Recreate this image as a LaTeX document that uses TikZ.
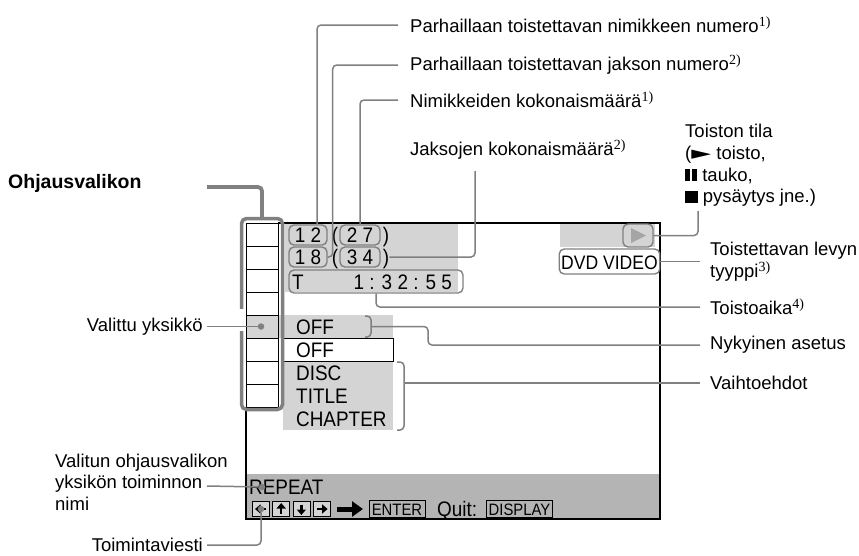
\documentclass[tikz,border=0pt]{standalone}
\usepackage{fontspec}
\setmainfont{Liberation Sans}
\newfontfamily\notefont{Liberation Serif}
\newfontfamily\symfont{DejaVu Sans}
\newfontfamily\screenfont[FakeStretch=0.9]{Liberation Sans}
\usepackage{xcolor}
\usepackage{tikz}
\usetikzlibrary{arrows.meta, positioning, calc}
\definecolor{LineGray}{RGB}{128,128,128}
\definecolor{ScreenBg}{RGB}{212,212,212}
\definecolor{BarBg}{RGB}{180,180,180}
\definecolor{IconGray}{RGB}{165,165,165}

\newcommand{\lblsize}{\fontsize{18.5}{21.6}\selectfont}
\newcommand{\scrsize}{\screenfont\fontsize{21}{23}\selectfont}
\newcommand{\keysize}{\screenfont\fontsize{16.5}{17}\selectfont}
\newcommand{\fnote}[1]{\raisebox{6pt}{\notefont\fontsize{14}{14}\selectfont #1}}

\tikzset{
  conn/.style={draw=LineGray, line width=1.5pt, rounded corners=4pt},
  lblL/.style={font=\lblsize, anchor=east, inner xsep=4pt, inner ysep=0pt},
  lblR/.style={font=\lblsize, anchor=west, align=left, inner xsep=10pt, inner ysep=0pt},
  lblT/.style={font=\lblsize, anchor=west, inner xsep=12pt, inner ysep=0pt},
  capsule/.style={draw=LineGray, line width=1.4pt, rounded corners=5pt, font=\scrsize,
    text height=15pt, text depth=0pt, inner xsep=3pt, inner ysep=0pt, minimum height=20pt},
  scrtext/.style={font=\scrsize, anchor=west, text height=15pt, text depth=0pt, inner sep=0pt},
  cell/.style={draw=black, line width=0.9pt, minimum width=32pt, minimum height=23pt, inner sep=0pt},
  keybox/.style={draw=black, fill=ScreenBg, line width=0.8pt, minimum width=17pt,
    minimum height=15pt, inner sep=0pt},
  tagbox/.style={draw=black, line width=0.8pt, font=\keysize, text height=12pt, text depth=0pt,
    inner xsep=2pt, inner ysep=2pt, minimum height=17pt},
  hotdot/.style={circle, fill=LineGray, inner sep=0pt, minimum size=6.5pt}
}

\begin{document}
\begin{tikzpicture}[x=1pt, y=-1pt]
  \useasboundingbox (0,0) rectangle (859,555);

  % screen
  \fill[ScreenBg] (285,224) rectangle (458,292);
  \fill[ScreenBg] (560,224) rectangle (655,247);
  \fill[ScreenBg] (246,315) rectangle (393,338);
  \fill[ScreenBg] (283,361) rectangle (393,430);
  \fill[BarBg] (246,474) rectangle (660,518);
  \draw[line width=1.8pt] (246,407) -- (246,519) -- (660,519) -- (660,223) -- (278,223);

  \foreach \i in {0,...,7}
    \node[cell] (cell\i) at (262,234.5+23*\i) {};

  \node[draw=black, line width=0.9pt, fill=white, minimum width=110pt, minimum height=23pt,
    inner sep=0pt, anchor=north west] (optbox) at (283,338) {};

  \node[draw=LineGray, line width=3.5pt, rounded corners=5pt,
    minimum width=41pt, minimum height=191pt, inner sep=0pt] (colframe) at (262,314) {};
  \fill[white] (238,309) rectangle (245.2,331);

  % top rows
  \node[capsule, minimum width=38pt] (c12) at (308,235) {1 2};
  \node[scrtext, anchor=center] (lp1) at (335,235) {(};
  \node[capsule, minimum width=40pt] (c27) at (360,235) {2 7};
  \node[scrtext, anchor=center] (rp1) at (386,235) {)};
  \node[capsule, minimum width=38pt] (c18) at (308,257) {1 8};
  \node[scrtext, anchor=center] (lp2) at (335,257) {(};
  \node[capsule, minimum width=40pt] (c34) at (360,257) {3 4};
  \node[scrtext, anchor=center] (rp2) at (386,257) {)};
  \node[capsule, minimum width=174pt, minimum height=23pt] (cT) at (376,281.5) {};
  \node[scrtext] (tmode) at (292,281.5) {T};
  \node[scrtext, anchor=east] (ttime) at (452,281.5) {1 : 3 2 : 5 5};

  \node[capsule, minimum width=30pt, minimum height=23pt] (playcap) at (638,235.5) {};
  \fill[IconGray] (631,228) -- (646,235.5) -- (631,243) -- cycle;
  \node[capsule, font=\screenfont\fontsize{19.5}{20}\selectfont, inner xsep=2pt,
    minimum height=25pt] (disctype) at (609.5,261.5) {DVD VIDEO};

  % menu
  \node[scrtext] (curset) at (296,326.5) {OFF};
  \node[scrtext] (opt1) at (296,349.5) {OFF};
  \node[scrtext] (opt2) at (296,373) {DISC};
  \node[scrtext] (opt3) at (296,396) {TITLE};
  \node[scrtext] (opt4) at (296,419) {CHAPTER};
  \draw[conn] (365,316) -- (371,316) -- (371,337) -- (365,337);
  \draw[conn] (397,362) -- (404,362) -- (404,430) -- (397,430);
  \coordinate (curbr) at (371,326.5);
  \coordinate (optbr) at (404,383);

  % bottom bar
  \node[scrtext] (fname) at (249,487) {REPEAT};
  \foreach \i/\dx/\dy in {0/-1/0, 1/0/-1, 2/0/1, 3/1/0} {
    \node[keybox] (key\i) at (261+20.2*\i,509) {};
    \draw[-{Triangle[length=5.5pt, width=9pt]}, line width=2.4pt]
      ($(key\i)-(4.5*\dx,4.5*\dy)$) -- ($(key\i)+(6*\dx,6*\dy)$);
  }
  \draw[-{Triangle[length=11pt, width=15pt]}, line width=5pt] (337,509) -- (363,509);
  \node[tagbox, minimum width=56pt] (enterkey) at (397,509) {ENTER};
  \node[scrtext] (quit) at (437,509) {Quit:};
  \node[tagbox, minimum width=65pt] (dispkey) at (519.5,509) {DISPLAY};

  % labels
  \node[font=\bfseries\fontsize{19.5}{22}\selectfont, anchor=west, inner sep=0pt]
    (ohjlab) at (8,183) {Ohjausvalikon};
  \node[lblL] (selunit) at (207,326.5) {Valittu yksikkö};
  \node[lblR, anchor=west, inner xsep=0pt] (fnlab) at (55,482)
    {Valitun ohjausvalikon\\yksikön toiminnon\\nimi};
  \node[lblL] (msglab) at (207,545) {Toimintaviesti};

  \node[lblT] (lTitleNo) at (398,25) {Parhaillaan toistettavan nimikkeen numero\fnote{1)}};
  \node[lblT] (lChapNo) at (398,65) {Parhaillaan toistettavan jakson numero\fnote{2)}};
  \node[lblT] (lTitleTot) at (398,100) {Nimikkeiden kokonaismäärä\fnote{1)}};
  \node[lblT] (lChapTot) at (398,150) {Jaksojen kokonaismäärä\fnote{2)}};

  \node[lblR] (lState) at (675,165.5) {Toiston tila\\(\scalebox{1.4}[1]{\symfont ►} toisto,\\
    \rule{5pt}{12pt}\hspace{2pt}\rule{5pt}{12pt} tauko,\\
    \rule{12.5pt}{12pt} pysäytys jne.)};
  \node[lblR] (lType) at (700,261.5) {Toistettavan levyn\\tyyppi\fnote{3)}};
  \node[lblR] (lTime) at (700,307) {Toistoaika\fnote{4)}};
  \node[lblR] (lCur) at (700,345) {Nykyinen asetus};
  \node[lblR] (lOpt) at (700,383) {Vaihtoehdot};

  % connectors
  \coordinate (ohjstart) at (207,187);
  \draw[conn, line width=3.8pt] (ohjstart) -| (colframe.north);
  \coordinate (chaptot) at (475,171);
  \coordinate (statebot) at (698,211);
  \coordinate (fnstart) at (207,486);

  \draw[conn] (lTitleNo.west) -| ([xshift=9pt]c12.north);
  \draw[conn] (lChapNo.west) -| ([xshift=5pt]c18.east) -- (c18.east);
  \draw[conn] (lTitleTot.west) -| (c27.north);
  \draw[conn] (chaptot) |- (rp2.east);
  \draw[conn] (statebot) |- (playcap.east);
  \draw[conn] (disctype.east) -- (disctype.east -| lType.west);
  \draw[conn] (cT.south) |- (lTime.west);
  \draw[conn] (curbr) -| ++(57,18.5) -- (lCur.west);
  \draw[conn] (optbr) -- (lOpt.west);

  \node[hotdot] (seldot) at (261,326.5) {};
  \node[hotdot] (fndot) at (262,487) {};
  \node[hotdot] (msgdot) at (key0) {};
  \draw[conn] (selunit.east) -- (seldot);
  \draw[conn] (fnstart) -- (fndot);
  \draw[conn] (msglab.east) -| (msgdot);
\end{tikzpicture}
\end{document}
